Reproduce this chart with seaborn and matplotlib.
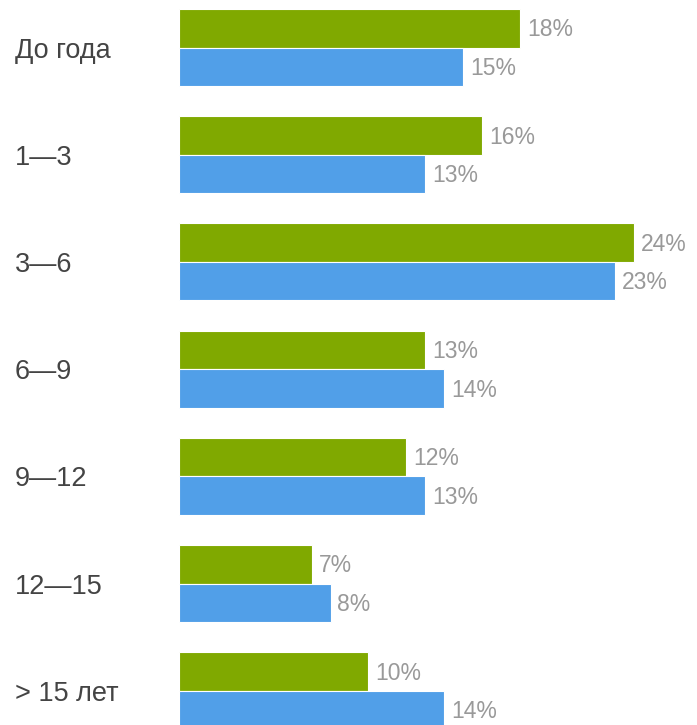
import matplotlib
matplotlib.use("Agg")
import matplotlib.pyplot as plt
import seaborn as sns
import pandas as pd

categories = ["До года", "1—3", "3—6", "6—9", "9—12", "12—15", "> 15 лет"]
series_a = [18, 16, 24, 13, 12, 7, 10]
series_b = [15, 13, 23, 14, 13, 8, 14]
series_names = ["A", "B"]
colors = ["#80a900", "#519fe8"]

df = pd.DataFrame({
    "cat": categories * 2,
    "val": series_a + series_b,
    "series": [series_names[0]] * len(categories) + [series_names[1]] * len(categories),
})

sns.set_theme(style="white")
plt.rcParams["font.family"] = ["Liberation Sans", "DejaVu Sans"]

W, H = 697, 725
fig = plt.figure(figsize=(W / 100, H / 100), dpi=100)
x0 = 179
ax = fig.add_axes([x0 / W, 0, (W - x0) / W, 1])

sns.barplot(data=df, y="cat", x="val", hue="series", orient="h",
            palette=colors, saturation=1, width=0.72, edgecolor="white",
            linewidth=0.8, legend=False, ax=ax)

px_per_unit = 18.94
group_px = 107.2
ax.set_xlim(0, (W - x0) / px_per_unit)
ax.set_ylim((H - 47.5) / group_px, -47.5 / group_px)
ax.axis("off")

for cont in ax.containers:
    anns = ax.bar_label(cont, labels=[f"{v:g}%" for v in cont.datavalues],
                        padding=7, color="#999999", fontsize=16.5)
    for a in anns:
        a.xyann = (5, -1.2)

for i, c in enumerate(categories):
    ax.text(-(x0 - 15) / px_per_unit, i + 3 / group_px, c, ha="left", va="center",
            fontsize=19.5, color="#444444", clip_on=False)

fig.savefig("out.png", dpi=100)
